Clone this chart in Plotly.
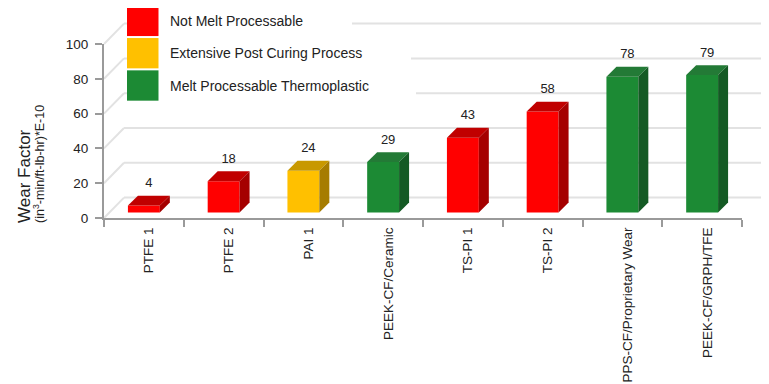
import plotly.graph_objects as go

# ---- data ----
categories = ["PTFE 1", "PTFE 2", "PAI 1", "PEEK-CF/Ceramic", "TS-PI 1", "TS-PI 2",
              "PPS-CF/Proprietary Wear", "PEEK-CF/GRPH/TFE"]
wear_factor = [4, 18, 24, 29, 43, 58, 78, 79]
group = ["Not Melt Processable", "Not Melt Processable", "Extensive Post Curing Process",
         "Melt Processable Thermoplastic", "Not Melt Processable", "Not Melt Processable",
         "Melt Processable Thermoplastic", "Melt Processable Thermoplastic"]
group_names = ["Not Melt Processable", "Extensive Post Curing Process", "Melt Processable Thermoplastic"]
y_ticks = [0, 20, 40, 60, 80, 100]

# ---- styles ----
OFF = 8                      # page body margin of the browser
W, H = 769 - OFF, 384 - OFF
PLOT_X0, PLOT_X1 = 104, 742  # screen px
PLOT_Y0, PLOT_Y1 = 43.5, 218.5
ML = PLOT_X0 - OFF
MR = W - (PLOT_X1 - OFF)
MT = PLOT_Y0 - OFF
MB = H - (PLOT_Y1 - OFF)
PW = PLOT_X1 - PLOT_X0
PH = PLOT_Y1 - PLOT_Y0
YMAX = 100
PX_PER_CAT = PW / len(categories)
PX_PER_UNIT = PH / YMAX

COLORS = {
    "Not Melt Processable": ("#FF0000", "#C00000", "#A50000"),
    "Extensive Post Curing Process": ("#FFC000", "#C89800", "#A67C00"),
    "Melt Processable Thermoplastic": ("#1C8A34", "#237A36", "#145A24"),
}
FONT = "Liberation Sans, Arial, Helvetica, sans-serif"
TXT = "#222222"
AXIS_COLOR = "#9a9a9a"
GRID_COLOR = "#e2e2e2"
BAR_W = 0.4
BASE = 5.5 / PX_PER_UNIT
DXB = 10 / PX_PER_CAT
DYB = 10 / PX_PER_UNIT
WALL_DX = 20 / PW
WALL_DY = 20.5 / PX_PER_UNIT


def px_x(p):  # screen px -> paper
    return (p - PLOT_X0) / PW


def px_y(p):
    return (PLOT_Y1 - p) / PH


fig = go.Figure()

fig.add_trace(go.Bar(
    x=categories, y=wear_factor, base=[BASE] * len(categories), width=BAR_W,
    marker=dict(color=[COLORS[g][0] for g in group], line=dict(width=0)),
    showlegend=False, hoverinfo="skip",
))

for i, (v, g) in enumerate(zip(wear_factor, group)):
    top = BASE + v
    xl, xr = i - BAR_W / 2, i + BAR_W / 2
    fig.add_trace(go.Scatter(
        x=[xl, xr, xr + DXB, xl + DXB, xl], y=[top, top, top + DYB, top + DYB, top],
        fill="toself", fillcolor=COLORS[g][1], mode="lines", line=dict(width=0),
        xaxis="x2", yaxis="y", showlegend=False, hoverinfo="skip"))
    fig.add_trace(go.Scatter(
        x=[xr, xr + DXB, xr + DXB, xr, xr], y=[BASE, BASE + DYB, top + DYB, top, BASE],
        fill="toself", fillcolor=COLORS[g][2], mode="lines", line=dict(width=0),
        xaxis="x2", yaxis="y", showlegend=False, hoverinfo="skip"))

fig.add_trace(go.Scatter(
    x=[i + DXB / 2 for i in range(len(categories))],
    y=[BASE + v + DYB + 3 for v in wear_factor],
    text=[str(v) for v in wear_factor], mode="text", textposition="top center",
    textfont=dict(family=FONT, size=13, color=TXT),
    xaxis="x2", yaxis="y", showlegend=False, hoverinfo="skip", cliponaxis=False))

shapes = []
for t in y_ticks:
    y0 = t / YMAX
    y1 = (t + WALL_DY) / YMAX
    shapes.append(dict(type="line", xref="paper", yref="paper", x0=0, y0=y0, x1=WALL_DX, y1=y1,
                       line=dict(color=GRID_COLOR, width=2), layer="below"))
    shapes.append(dict(type="line", xref="paper", yref="paper", x0=WALL_DX, y0=y1, x1=px_x(764), y1=y1,
                       line=dict(color=GRID_COLOR, width=2), layer="below"))

annotations = []
row_tops = [5, 37.5, 70]
row_right = [352, 411, 416]
for name, top, right in zip(group_names, row_tops, row_right):
    shapes.append(dict(type="rect", xref="paper", yref="paper",
                       x0=px_x(158), x1=px_x(right), y0=px_y(top), y1=px_y(top + 31),
                       fillcolor="white", line=dict(width=0), layer="below"))
    shapes.append(dict(type="rect", xref="paper", yref="paper",
                       x0=px_x(127), x1=px_x(158.5), y0=px_y(top), y1=px_y(top + 30.5),
                       fillcolor=COLORS[name][0], line=dict(width=0), layer="above"))
    annotations.append(dict(xref="paper", yref="paper", x=px_x(168), y=px_y(top + 15.5),
                            xanchor="left", yanchor="middle", text=name, showarrow=False,
                            align="left", font=dict(family=FONT, size=14, color=TXT)))

annotations.append(dict(
    xref="paper", yref="paper", x=px_x(24.5), y=px_y(226), xanchor="center", yanchor="bottom",
    textangle=-90, showarrow=False, text="Wear Factor",
    font=dict(family=FONT, size=17, color=TXT)))
annotations.append(dict(
    xref="paper", yref="paper", x=px_x(39.5), y=px_y(226), xanchor="center", yanchor="bottom",
    textangle=-90, showarrow=False, text="(in<sup>3</sup>-min/ft-lb-hr)*E-10",
    font=dict(family=FONT, size=12.5, color=TXT)))

fig.update_layout(
    width=W, height=H, margin=dict(l=ML, r=MR, t=MT, b=MB, pad=0),
    paper_bgcolor="white", plot_bgcolor="white",
    font=dict(family=FONT, size=13, color=TXT),
    xaxis=dict(type="category", range=[-0.5, len(categories) - 0.5], tickson="boundaries",
               ticks="outside", ticklen=7, tickwidth=2, tickcolor=AXIS_COLOR,
               showline=True, linecolor=AXIS_COLOR, linewidth=2, showgrid=False,
               tickangle=-90, ticklabelshift=5, ticklabelstandoff=2, automargin=False,
               tickfont=dict(family=FONT, size=13.5, color=TXT)),
    xaxis2=dict(overlaying="x", range=[-0.5, len(categories) - 0.5], visible=False),
    yaxis=dict(range=[0, YMAX], tickvals=y_ticks, ticks="outside", ticklen=7, tickwidth=2,
               tickcolor=AXIS_COLOR, showline=True, linecolor=AXIS_COLOR, linewidth=2,
               showgrid=False, zeroline=False, ticklabelstandoff=4, automargin=False,
               tickfont=dict(family=FONT, size=13.5, color=TXT)),
    shapes=shapes, annotations=annotations, showlegend=False,
)

fig.write_html("out.html")
